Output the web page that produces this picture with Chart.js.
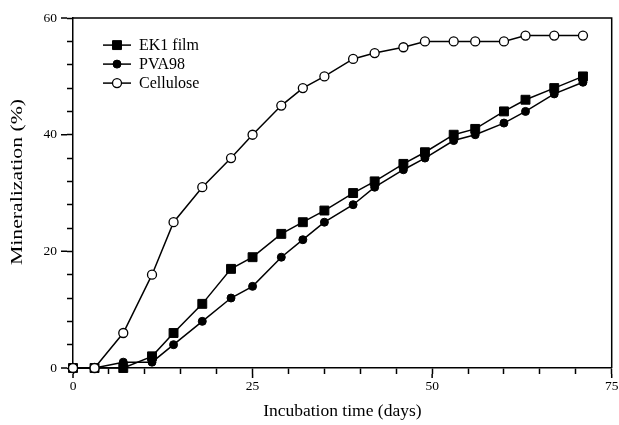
<!DOCTYPE html>
<html>
<head>
<meta charset="utf-8">
<script src="https://cdn.jsdelivr.net/npm/chart.js@4.4.1/dist/chart.umd.min.js"></script>
<style>
  html, body { margin: 0; padding: 0; background: #fff; }
  #wrap { width: 619px; height: 425px; }
</style>
</head>
<body>
<div id="wrap"><canvas id="chart" width="619" height="425"></canvas></div>
<script>
// incubation days (x)
const days = [0, 3, 7, 11, 14, 18, 22, 25, 29, 32, 35, 39, 42, 46, 49, 53, 56, 60, 63, 67, 71];

// mineralization (%)
const ek1Film   = [0, 0, 0, 2, 6, 11, 17, 19, 23, 25, 27, 30, 32, 35, 37, 40, 41, 44, 46, 48, 50];
const pva98     = [0, 0, 1, 1, 4, 8, 12, 14, 19, 22, 25, 28, 31, 34, 36, 39, 40, 42, 44, 47, 49];
const cellulose = [0, 0, 6, 16, 25, 31, 36, 40, 45, 48, 50, 53, 54, 55, 56, 56, 56, 56, 57, 57, 57];

const seriesNames = ['EK1 film', 'PVA98', 'Cellulose'];
const xMajorTicks = [0, 25, 50, 75];
const yMajorTicks = [0, 20, 40, 60];
const yTitle = 'Mineralization (%)';

const FONT = '"Liberation Serif", "Times New Roman", serif';

function toPoints(vals) {
    return days.map((d, i) => ({ x: d, y: vals[i] }));
}

// frame, long major ticks, y title (stretched like the original) and legend
const extrasPlugin = {
    id: 'extras',
    afterDraw(chart) {
        const ctx = chart.ctx;
        const area = chart.chartArea;
        const xs = chart.scales.x;
        const ys = chart.scales.y;
        ctx.save();
        ctx.strokeStyle = '#000';
        ctx.lineWidth = 1.5;
        ctx.beginPath();
        ctx.moveTo(area.left, area.top);
        ctx.lineTo(area.right, area.top);
        ctx.lineTo(area.right, area.bottom);
        ctx.stroke();

        // longer major ticks
        ctx.beginPath();
        yMajorTicks.forEach(v => {
            const py = ys.getPixelForValue(v);
            ctx.moveTo(area.left - 12, py);
            ctx.lineTo(area.left - 6, py);
        });
        xMajorTicks.forEach(v => {
            const px = xs.getPixelForValue(v);
            ctx.moveTo(px, area.bottom + 6);
            ctx.lineTo(px, area.bottom + 10);
        });
        ctx.stroke();

        // y axis title
        ctx.save();
        ctx.translate(18, 182);
        ctx.rotate(-Math.PI / 2);
        ctx.scale(1.28, 1);
        ctx.font = '17px ' + FONT;
        ctx.textAlign = 'center';
        ctx.textBaseline = 'middle';
        ctx.fillStyle = '#000';
        ctx.fillText(yTitle, 0, 0);
        ctx.restore();

        // legend
        ctx.font = '16px ' + FONT;
        ctx.textBaseline = 'middle';
        chart.data.datasets.forEach((ds, i) => {
            const y = area.top + 27 + i * 19;
            const x0 = area.left + 30;
            ctx.lineWidth = 1.5;
            ctx.strokeStyle = '#000';
            ctx.beginPath();
            ctx.moveTo(x0, y);
            ctx.lineTo(x0 + 28, y);
            ctx.stroke();
            ctx.fillStyle = ds.pointBackgroundColor;
            ctx.lineWidth = ds.pointBorderWidth;
            Chart.helpers.drawPoint(ctx, {
                pointStyle: ds.pointStyle,
                radius: ds.pointRadius,
                borderWidth: ds.pointBorderWidth,
                rotation: 0
            }, x0 + 14, y);
            ctx.fillStyle = '#000';
            ctx.fillText(ds.label, x0 + 36, y + 1);
        });
        ctx.restore();
    }
};

const ctx = document.getElementById('chart').getContext('2d');
new Chart(ctx, {
    type: 'line',
    data: {
        datasets: [
            {
                label: seriesNames[0],
                data: toPoints(ek1Film),
                borderColor: '#000',
                borderWidth: 1.5,
                pointStyle: 'rect',
                pointRadius: 6.3,
                pointBackgroundColor: '#000',
                pointBorderColor: '#000',
                pointBorderWidth: 1,
                order: 2
            },
            {
                label: seriesNames[1],
                data: toPoints(pva98),
                borderColor: '#000',
                borderWidth: 1.5,
                pointStyle: 'circle',
                pointRadius: 4,
                pointBackgroundColor: '#000',
                pointBorderColor: '#000',
                pointBorderWidth: 1,
                order: 1
            },
            {
                label: seriesNames[2],
                data: toPoints(cellulose),
                borderColor: '#000',
                borderWidth: 1.5,
                pointStyle: 'circle',
                pointRadius: 4.5,
                pointBackgroundColor: '#fff',
                pointBorderColor: '#000',
                pointBorderWidth: 1.3,
                order: 0
            }
        ]
    },
    options: {
        responsive: false,
        animation: false,
        clip: false,
        layout: { padding: { left: 9, right: 7, top: 15, bottom: 3 } },
        plugins: {
            legend: { display: false },
            tooltip: { enabled: false }
        },
        scales: {
            x: {
                type: 'linear',
                min: 0,
                max: 75,
                afterFit: (s) => { s.height = 54; s.paddingLeft = 0; s.paddingRight = 0; },
                border: { display: true, color: '#000', width: 1.5 },
                grid: { drawOnChartArea: false, tickLength: 6, tickColor: '#000', tickWidth: 1.5 },
                ticks: {
                    stepSize: 5,
                    autoSkip: false,
                    maxRotation: 0,
                    padding: 4,
                    color: '#000',
                    font: { family: FONT, size: 13.5 },
                    callback: (v) => xMajorTicks.includes(v) ? String(v) : ''
                },
                title: {
                    display: true,
                    text: 'Incubation time (days)',
                    color: '#000',
                    font: { family: FONT, size: 17.5 },
                    padding: 0
                }
            },
            y: {
                type: 'linear',
                min: 0,
                max: 60,
                afterFit: (s) => { s.width = 64; },
                border: { display: true, color: '#000', width: 1.5 },
                grid: { drawOnChartArea: false, tickLength: 6, tickColor: '#000', tickWidth: 1.5 },
                ticks: {
                    stepSize: 4,
                    autoSkip: false,
                    padding: 10,
                    color: '#000',
                    font: { family: FONT, size: 13.5 },
                    callback: (v) => yMajorTicks.includes(v) ? String(v) : ''
                }
            }
        }
    },
    plugins: [extrasPlugin]
});
</script>
</body>
</html>
